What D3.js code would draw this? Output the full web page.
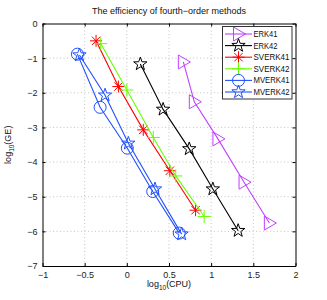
<!DOCTYPE html>
<html><head><meta charset="utf-8">
<script src="https://cdn.jsdelivr.net/npm/d3@7"></script>
<style>body{margin:0;background:#fff}svg{display:block}text{font-family:"Liberation Sans",Arial,sans-serif}</style>
</head><body><svg id="c" width="327" height="300"></svg>
<script>
const seriesNames = ["ERK41","ERK42","SVERK41","SVERK42","MVERK41","MVERK42"];
const seriesColors = ["#bf40ff","#000000","#ff0000","#66ff00","#2050ff","#2050ff"];
const seriesMarkers = ["triangle","star","asterisk","plus","circle","star"];
const erk41X = [0.67,0.80,1.08,1.39,1.69];
const erk41Y = [-1.11,-2.26,-3.33,-4.58,-5.76];
const erk42X = [0.16,0.43,0.74,1.02,1.32];
const erk42Y = [-1.17,-2.48,-3.62,-4.78,-5.98];
const sverk41X = [-0.365,-0.10,0.195,0.51,0.815];
const sverk41Y = [-0.50,-1.82,-3.07,-4.25,-5.39];
const sverk42X = [-0.31,0.0,0.314,0.58,0.917];
const sverk42Y = [-0.58,-1.92,-3.29,-4.40,-5.57];
const mverk41X = [-0.586,-0.317,0.006,0.307,0.621];
const mverk41Y = [-0.885,-2.42,-3.60,-4.85,-6.05];
const mverk42X = [-0.562,-0.258,0.018,0.334,0.65];
const mverk42Y = [-0.91,-2.07,-3.46,-4.78,-6.08];
const xTicks = [-1,-0.5,0,0.5,1,1.5,2];
const yTicks = [0,-1,-2,-3,-4,-5,-6,-7];
const titleText = "The efficiency of fourth\u2212order methods";

const allX=[erk41X,erk42X,sverk41X,sverk42X,mverk41X,mverk42X];
const allY=[erk41Y,erk42Y,sverk41Y,sverk42Y,mverk41Y,mverk42Y];

const svg=d3.select("#c");
const L=42.5,R=295.5,T=23.5,B=266;
const x=d3.scaleLinear().domain([-1,2]).range([L,R]);
const y=d3.scaleLinear().domain([-7,0]).range([B,T]);

// grid
const g=svg.append("g");
xTicks.slice(1,-1).forEach(t=>g.append("line").attr("x1",x(t)).attr("x2",x(t)).attr("y1",T).attr("y2",B).attr("stroke","#aaa").attr("stroke-width",0.7).attr("stroke-dasharray","1,2.5"));
yTicks.slice(1,-1).forEach(t=>g.append("line").attr("y1",y(t)).attr("y2",y(t)).attr("x1",L).attr("x2",R).attr("stroke","#aaa").attr("stroke-width",0.7).attr("stroke-dasharray","1,2.5"));

// axes
const xa=svg.append("g").attr("transform",`translate(0,${B})`).call(d3.axisBottom(x).tickValues(xTicks).tickSizeInner(-3).tickSizeOuter(0).tickPadding(6).tickFormat(d3.format("")));
const xt=svg.append("g").attr("transform",`translate(0,${T})`).call(d3.axisTop(x).tickValues(xTicks).tickSizeInner(-3).tickSizeOuter(0).tickFormat(""));
const ya=svg.append("g").attr("transform",`translate(${L},0)`).call(d3.axisLeft(y).tickValues(yTicks).tickSizeInner(-3).tickSizeOuter(0).tickPadding(5).tickFormat(d=>d===0?"0":"\u2212"+Math.abs(d)));
const yr=svg.append("g").attr("transform",`translate(${R},0)`).call(d3.axisRight(y).tickValues(yTicks).tickSizeInner(-3).tickSizeOuter(0).tickFormat(""));
[xa,xt,ya,yr].forEach(a=>{a.select(".domain").attr("stroke","#000").attr("stroke-width",1);a.selectAll("text").attr("font-size",9).attr("fill","#222").attr("font-family","Liberation Sans, Arial, sans-serif");});

function marker(sel,type,cx,cy,color){
  const gg=sel.append("g").attr("transform",`translate(${cx},${cy})`).attr("fill","none").attr("stroke",color).attr("stroke-width",1);
  if(type==="circle") gg.append("circle").attr("r",6);
  else if(type==="star"){
    const pts=[];for(let i=0;i<10;i++){const r=i%2?2.8:7;const a=-Math.PI/2+i*Math.PI/5;pts.push([r*Math.cos(a),r*Math.sin(a)]);}
    gg.append("polygon").attr("points",pts.map(p=>p.join(",")).join(" "));
  } else if(type==="triangle"){
    gg.append("polygon").attr("points","-5,-7 7,0 -5,7");
  } else if(type==="asterisk"){
    gg.append("path").attr("d","M-6,0H6M0,-6V6M-4.2,-4.2L4.2,4.2M-4.2,4.2L4.2,-4.2");
  } else if(type==="plus"){
    gg.append("path").attr("d","M-6.5,0H6.5M0,-6.5V6.5");
  }
}

const plot=svg.append("g");
seriesNames.forEach((n,i)=>{
  const data=allX[i].map((v,j)=>[v,allY[i][j]]);
  plot.append("path").datum(data).attr("d",d3.line().x(d=>x(d[0])).y(d=>y(d[1]))).attr("fill","none").attr("stroke",seriesColors[i]).attr("stroke-width",1.1);
  data.forEach(d=>marker(plot,seriesMarkers[i],x(d[0]),y(d[1]),seriesColors[i]));
});

// legend
const lg=svg.append("g");
lg.append("rect").attr("x",222.5).attr("y",26.5).attr("width",69.5).attr("height",72.5).attr("fill","#fff").attr("stroke","#333").attr("stroke-width",1);
seriesNames.forEach((n,i)=>{
  const yy=34+i*11.6;
  lg.append("line").attr("x1",225).attr("x2",252).attr("y1",yy).attr("y2",yy).attr("stroke",seriesColors[i]).attr("stroke-width",1.1);
  marker(lg,seriesMarkers[i],238.5,yy,seriesColors[i]);
  lg.append("text").attr("x",253.5).attr("y",yy+3).attr("font-size",8.2).attr("textLength",n.length>5?36:24).attr("lengthAdjust","spacingAndGlyphs").attr("fill","#111").text(n);
});

svg.append("text").attr("x",(L+R)/2).attr("y",14).attr("text-anchor","middle").attr("font-size",9).attr("fill","#111").text(titleText);
const xl=svg.append("text").attr("x",(L+R)/2).attr("y",287).attr("text-anchor","middle").attr("font-size",9).attr("fill","#111");
xl.append("tspan").text("log");xl.append("tspan").attr("font-size",6.5).attr("dy",2.5).text("10");xl.append("tspan").attr("dy",-2.5).text("(CPU)");
const yl=svg.append("text").attr("transform",`translate(11,${(T+B)/2}) rotate(-90)`).attr("text-anchor","middle").attr("font-size",9).attr("fill","#111");
yl.append("tspan").text("log");yl.append("tspan").attr("font-size",6.5).attr("dy",2.5).text("10");yl.append("tspan").attr("dy",-2.5).text("(GE)");
</script></body></html>
